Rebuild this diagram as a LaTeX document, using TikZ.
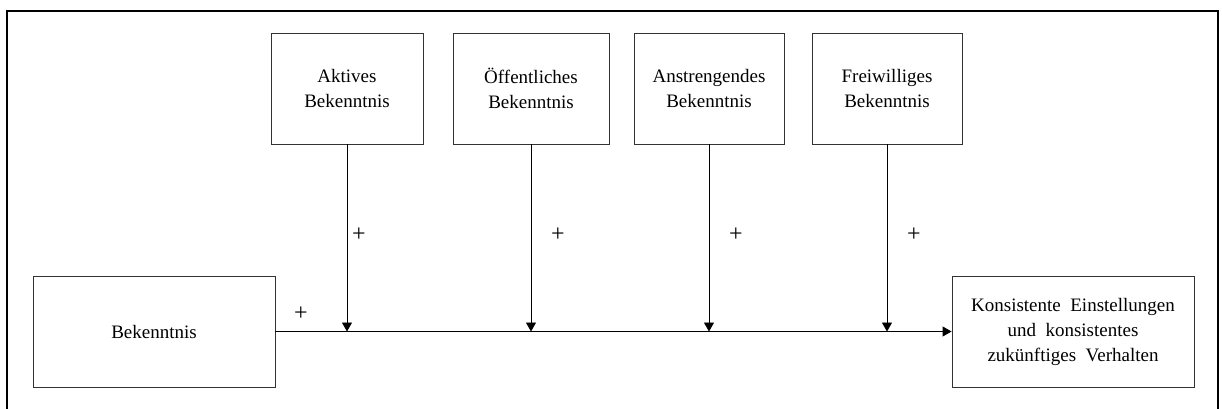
\documentclass[tikz,border=0pt]{standalone}
\usepackage{fontspec}
\setmainfont{Liberation Serif}
\usetikzlibrary{arrows.meta}
\begin{document}
\begin{tikzpicture}[x=1pt,y=-1pt,
  box/.style={draw=black!80,line width=0.9pt,align=center,inner sep=0pt,
    font=\fontsize{19}{25}\selectfont},
  topbox/.style={box,minimum height=111pt},
  link/.style={line width=0.9pt,-{Triangle[width=10pt,length=9pt]}},
  sign/.style={font=\fontsize{24}{28}\selectfont,inner sep=0pt}]
\useasboundingbox (0,0) rectangle (1222,408);
\begin{scope}
\clip (0,0) rectangle (1222,408);
\draw[line width=2pt] (7,11) rectangle (1218,430);
\end{scope}
% influencing factors
\node[topbox,minimum width=152pt] (akt) at (347,88.5) {Aktives\\Bekenntnis};
\node[topbox,minimum width=156pt] (oef) at (531,88.5) {Öffentliches\\Bekenntnis};
\node[topbox,minimum width=150pt] (ans) at (709,88.5) {Anstrengendes\\Bekenntnis};
\node[topbox,minimum width=150pt] (frw) at (887,88.5) {Freiwilliges\\Bekenntnis};
% main path
\node[box,minimum width=242pt,minimum height=111pt] (bek) at (154,331.5) {Bekenntnis};
\node[box,minimum width=242pt,minimum height=111pt] (kon) at (1073,331.5)
  {Konsistente\ \ Einstellungen\\und\ \ konsistentes\\zukünftiges\ \ Verhalten};
\coordinate (j1) at (347,331.5);
\coordinate (j2) at (531,331.5);
\coordinate (j3) at (709,331.5);
\coordinate (j4) at (887,331.5);
\draw[link] (bek.east) -- (kon.west);
\draw[link] (akt.south) -- (j1);
\draw[link] (oef.south) -- (j2);
\draw[link] (ans.south) -- (j3);
\draw[link] (frw.south) -- (j4);
% signs
\node[sign] (p0) at (301,314) {+};
\node[sign] (p1) at (359,235) {+};
\node[sign] (p2) at (558,235) {+};
\node[sign] (p3) at (736,235) {+};
\node[sign] (p4) at (914,235) {+};
\end{tikzpicture}
\end{document}
